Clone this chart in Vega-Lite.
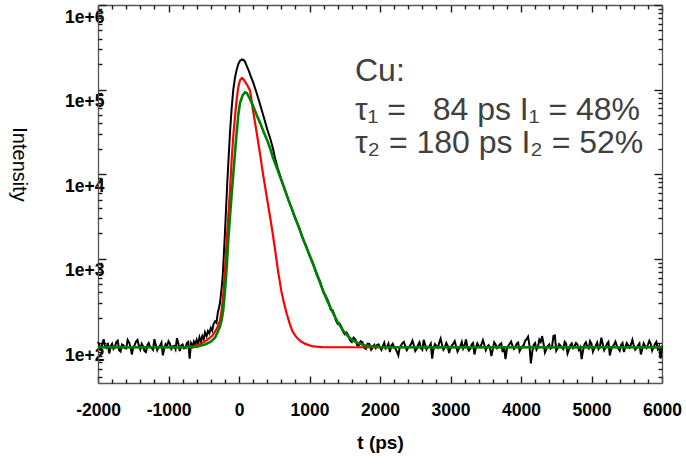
{
  "$schema": "https://vega.github.io/schema/vega-lite/v6.json",
  "width": 564,
  "height": 378,
  "autosize": {"type": "none"},
  "padding": {"left": 98, "top": 5, "right": 24, "bottom": 81},
  "background": "white",
  "config": {
    "view": {"stroke": null},
    "axis": {"grid": false, "domainColor": "#555", "tickColor": "#1a1a1a", "tickWidth": 1.4, "domainWidth": 1.3}
  },
  "datasets": {
    "obs": [
      {"t":-2000,"v":104},{"t":-1980,"v":95},{"t":-1960,"v":82},{"t":-1940,"v":99},{"t":-1920,"v":112},{"t":-1900,"v":90},{"t":-1880,"v":88},{"t":-1860,"v":101},{"t":-1840,"v":76},{"t":-1820,"v":93},
      {"t":-1800,"v":99},{"t":-1780,"v":86},{"t":-1760,"v":91},{"t":-1740,"v":104},{"t":-1720,"v":108},{"t":-1700,"v":83},{"t":-1680,"v":80},{"t":-1660,"v":97},{"t":-1640,"v":95},{"t":-1620,"v":88},
      {"t":-1600,"v":87},{"t":-1580,"v":110},{"t":-1560,"v":103},{"t":-1540,"v":92},{"t":-1520,"v":74},{"t":-1500,"v":89},{"t":-1480,"v":96},{"t":-1460,"v":105},{"t":-1440,"v":110},{"t":-1420,"v":94},
      {"t":-1400,"v":85},{"t":-1380,"v":99},{"t":-1360,"v":92},{"t":-1340,"v":81},{"t":-1320,"v":79},{"t":-1300,"v":95},{"t":-1280,"v":101},{"t":-1260,"v":90},{"t":-1240,"v":89},{"t":-1220,"v":84},
      {"t":-1200,"v":112},{"t":-1180,"v":96},{"t":-1160,"v":83},{"t":-1140,"v":91},{"t":-1120,"v":94},{"t":-1100,"v":102},{"t":-1080,"v":72},{"t":-1060,"v":88},{"t":-1040,"v":98},{"t":-1020,"v":93},
      {"t":-1000,"v":106},{"t":-980,"v":99},{"t":-960,"v":86},{"t":-940,"v":92},{"t":-920,"v":93},{"t":-900,"v":85},{"t":-880,"v":115},{"t":-860,"v":100},{"t":-840,"v":81},{"t":-820,"v":94},
      {"t":-800,"v":97},{"t":-780,"v":87},{"t":-760,"v":88},{"t":-740,"v":101},{"t":-720,"v":104},
      {"t":-700,"v":66},{"t":-680,"v":100},{"t":-660,"v":92},{"t":-640,"v":105},{"t":-620,"v":96},{"t":-600,"v":110},{"t":-580,"v":99},{"t":-560,"v":118},{"t":-540,"v":104},{"t":-520,"v":122},{"t":-500,"v":112},{"t":-482,"v":135},{"t":-460,"v":121},{"t":-440,"v":140},{"t":-420,"v":131},{"t":-400,"v":152},{"t":-380,"v":141},{"t":-360,"v":170},{"t":-340,"v":182},{"t":-320,"v":175},{"t":-300,"v":232},{"t":-285,"v":260},{"t":-270,"v":300},{"t":-250,"v":420},{"t":-231,"v":620},{"t":-215,"v":1120},{"t":-199,"v":2040},{"t":-183,"v":3980},{"t":-166,"v":7940},{"t":-150,"v":14100},{"t":-128,"v":30900},{"t":-104,"v":60300},{"t":-81,"v":100000},{"t":-57,"v":138000},{"t":-33,"v":172000},{"t":-10,"v":200000},{"t":14,"v":219000},{"t":40,"v":226000},{"t":61,"v":225000},{"t":85,"v":214000},{"t":110,"v":190000},{"t":140,"v":166000},{"t":170,"v":141000},{"t":203,"v":120000},{"t":250,"v":91200},{"t":290,"v":70800},{"t":322,"v":57500},{"t":360,"v":44700},{"t":400,"v":33900},{"t":440,"v":26900},{"t":480,"v":20400},{"t":511,"v":15500},{"t":550,"v":11700},{"t":600,"v":8700},
      {"t":650,"v":6600},{"t":700,"v":4950},{"t":750,"v":3920},{"t":800,"v":2950},{"t":850,"v":2380},{"t":900,"v":1770},{"t":950,"v":1430},{"t":1000,"v":1090},{"t":1050,"v":890},{"t":1100,"v":655},{"t":1150,"v":540},
      {"t":1200,"v":395},{"t":1225,"v":372},{"t":1250,"v":335},{"t":1275,"v":300},{"t":1300,"v":250},{"t":1325,"v":248},{"t":1350,"v":222},{"t":1375,"v":186},{"t":1400,"v":170},{"t":1425,"v":172},{"t":1450,"v":160},{"t":1475,"v":138},{"t":1500,"v":128},{"t":1525,"v":134},{"t":1550,"v":124},{"t":1575,"v":109},{"t":1600,"v":104},{"t":1625,"v":117},{"t":1650,"v":112},{"t":1675,"v":96},{"t":1700,"v":95},{"t":1725,"v":106},{"t":1750,"v":103},{"t":1775,"v":89},{"t":1800,"v":86},{"t":1825,"v":99},{"t":1850,"v":98},{"t":1875,"v":84},{"t":1900,"v":90},{"t":1920,"v":96},
      {"t":1940,"v":88},{"t":1960,"v":96},{"t":1980,"v":97},{"t":2000,"v":90},{"t":2020,"v":84},{"t":2040,"v":93},{"t":2060,"v":102},{"t":2080,"v":87},{"t":2100,"v":91},{"t":2120,"v":99},
      {"t":2140,"v":79},{"t":2160,"v":94},{"t":2180,"v":99},{"t":2200,"v":91},{"t":2220,"v":86},{"t":2240,"v":80},{"t":2260,"v":72},{"t":2280,"v":90},{"t":2300,"v":95},{"t":2320,"v":101},
      {"t":2340,"v":104},{"t":2360,"v":92},{"t":2380,"v":83},{"t":2400,"v":89},{"t":2420,"v":93},{"t":2440,"v":98},{"t":2460,"v":108},{"t":2480,"v":95},{"t":2500,"v":81},{"t":2520,"v":86},
      {"t":2540,"v":96},{"t":2560,"v":103},{"t":2580,"v":88},{"t":2600,"v":84},{"t":2620,"v":110},{"t":2640,"v":97},{"t":2660,"v":85},{"t":2680,"v":91},{"t":2700,"v":92},{"t":2720,"v":99},
      {"t":2740,"v":66},{"t":2760,"v":87},{"t":2780,"v":98},{"t":2800,"v":93},{"t":2820,"v":89},{"t":2840,"v":102},{"t":2860,"v":114},{"t":2880,"v":96},{"t":2900,"v":84},{"t":2920,"v":90},
      {"t":2940,"v":101},{"t":2960,"v":94},{"t":2980,"v":77},{"t":3000,"v":88},{"t":3020,"v":95},{"t":3040,"v":99},{"t":3060,"v":106},{"t":3080,"v":92},{"t":3100,"v":80},{"t":3120,"v":87},
      {"t":3140,"v":93},{"t":3160,"v":104},{"t":3180,"v":87},{"t":3200,"v":95},{"t":3220,"v":111},{"t":3240,"v":90},{"t":3260,"v":82},{"t":3280,"v":86},{"t":3300,"v":97},{"t":3320,"v":101},
      {"t":3340,"v":74},{"t":3360,"v":89},{"t":3380,"v":100},{"t":3400,"v":93},{"t":3420,"v":90},{"t":3440,"v":98},{"t":3460,"v":109},{"t":3480,"v":96},{"t":3500,"v":83},{"t":3520,"v":91},
      {"t":3540,"v":95},{"t":3560,"v":88},{"t":3580,"v":71},{"t":3600,"v":85},{"t":3620,"v":103},{"t":3640,"v":97},{"t":3660,"v":88},{"t":3680,"v":92},{"t":3700,"v":97},{"t":3720,"v":100},
      {"t":3740,"v":79},{"t":3760,"v":90},{"t":3780,"v":65},{"t":3800,"v":86},{"t":3820,"v":94},{"t":3840,"v":99},{"t":3860,"v":105},{"t":3880,"v":93},{"t":3900,"v":86},{"t":3920,"v":91},
      {"t":3940,"v":99},{"t":3960,"v":102},{"t":3980,"v":81},{"t":4000,"v":87},{"t":4020,"v":92},{"t":4040,"v":96},{"t":4060,"v":108},{"t":4080,"v":112},{"t":4100,"v":120},{"t":4120,"v":95},
      {"t":4140,"v":58},{"t":4160,"v":80},{"t":4180,"v":96},{"t":4200,"v":101},{"t":4220,"v":84},{"t":4240,"v":90},{"t":4260,"v":111},{"t":4280,"v":104},{"t":4300,"v":122},{"t":4320,"v":99},
      {"t":4340,"v":78},{"t":4360,"v":86},{"t":4380,"v":93},{"t":4400,"v":97},{"t":4420,"v":87},{"t":4440,"v":91},{"t":4460,"v":122},{"t":4480,"v":124},{"t":4500,"v":82},{"t":4520,"v":88},
      {"t":4540,"v":98},{"t":4560,"v":94},{"t":4580,"v":90},{"t":4600,"v":86},{"t":4620,"v":104},{"t":4640,"v":99},{"t":4660,"v":76},{"t":4680,"v":84},{"t":4700,"v":95},{"t":4720,"v":100},
      {"t":4740,"v":88},{"t":4760,"v":93},{"t":4780,"v":101},{"t":4800,"v":97},{"t":4820,"v":84},{"t":4840,"v":90},{"t":4860,"v":65},{"t":4880,"v":82},{"t":4900,"v":97},{"t":4920,"v":103},
      {"t":4940,"v":91},{"t":4960,"v":87},{"t":4980,"v":106},{"t":5000,"v":99},{"t":5020,"v":80},{"t":5040,"v":88},{"t":5060,"v":94},{"t":5080,"v":102},{"t":5100,"v":86},{"t":5120,"v":92},
      {"t":5140,"v":117},{"t":5160,"v":98},{"t":5180,"v":83},{"t":5200,"v":89},{"t":5220,"v":99},{"t":5240,"v":104},{"t":5260,"v":72},{"t":5280,"v":85},{"t":5300,"v":92},{"t":5320,"v":97},
      {"t":5340,"v":105},{"t":5360,"v":93},{"t":5380,"v":87},{"t":5400,"v":82},{"t":5420,"v":96},{"t":5440,"v":101},{"t":5460,"v":79},{"t":5480,"v":90},{"t":5500,"v":101},{"t":5520,"v":95},
      {"t":5540,"v":89},{"t":5560,"v":97},{"t":5580,"v":110},{"t":5600,"v":94},{"t":5620,"v":84},{"t":5640,"v":88},{"t":5660,"v":95},{"t":5680,"v":100},{"t":5700,"v":74},{"t":5720,"v":86},
      {"t":5740,"v":100},{"t":5760,"v":93},{"t":5780,"v":88},{"t":5800,"v":96},{"t":5820,"v":107},{"t":5840,"v":99},{"t":5860,"v":82},{"t":5880,"v":90},{"t":5900,"v":98},{"t":5920,"v":104},
      {"t":5940,"v":86},{"t":5960,"v":92},{"t":5980,"v":66},{"t":6000,"v":94}
    ],
    "red": [
      {"t":-2000,"v":90},{"t":-800,"v":90},{"t":-650,"v":92},{"t":-550,"v":98},{"t":-450,"v":110},{"t":-380,"v":123},{"t":-316,"v":148},{"t":-270,"v":186},{"t":-245,"v":251},{"t":-220,"v":398},{"t":-199,"v":759},{"t":-175,"v":1585},{"t":-152,"v":3162},{"t":-128,"v":6310},{"t":-104,"v":14800},{"t":-81,"v":28200},{"t":-57,"v":47900},{"t":-33,"v":75900},{"t":-10,"v":107000},{"t":14,"v":129000},{"t":40,"v":137000},{"t":61,"v":133000},{"t":85,"v":124500},{"t":120,"v":112000},{"t":156,"v":97700},{"t":200,"v":56200},{"t":251,"v":30900},{"t":300,"v":17000},{"t":345,"v":9550},{"t":400,"v":5010},{"t":440,"v":3160},{"t":480,"v":1950},{"t":511,"v":1290},{"t":557,"v":692},{"t":600,"v":417},{"t":640,"v":295},{"t":677,"v":224},{"t":720,"v":170},{"t":760,"v":138},{"t":818,"v":117},{"t":880,"v":105},{"t":950,"v":98},{"t":1050,"v":92},{"t":1200,"v":90},{"t":6000,"v":90}
    ],
    "green": [
      {"t":-2000,"v":90},{"t":-700,"v":90},{"t":-600,"v":91},{"t":-482,"v":97},{"t":-400,"v":105},{"t":-340,"v":117},{"t":-294,"v":141},{"t":-270,"v":158},{"t":-245,"v":190},{"t":-223,"v":251},{"t":-199,"v":417},{"t":-174,"v":794},{"t":-152,"v":1660},{"t":-128,"v":3160},{"t":-104,"v":5750},{"t":-81,"v":10000},{"t":-57,"v":17800},{"t":-33,"v":30900},{"t":-10,"v":50100},{"t":14,"v":69200},{"t":50,"v":85100},{"t":85,"v":92700},{"t":110,"v":91200},{"t":156,"v":77600},{"t":203,"v":63100},{"t":251,"v":50100},{"t":298,"v":40700},{"t":350,"v":31600},{"t":400,"v":25100},{"t":440,"v":20400},{"t":480,"v":15800},{"t":535,"v":12000},{"t":600,"v":8510},{"t":700,"v":5010},{"t":770,"v":3470},{"t":850,"v":2340},{"t":920,"v":1620},{"t":1007,"v":1070},{"t":1100,"v":676},{"t":1170,"v":468},{"t":1244,"v":331},{"t":1320,"v":240},{"t":1400,"v":178},{"t":1479,"v":141},{"t":1550,"v":120},{"t":1617,"v":108},{"t":1700,"v":100},{"t":1800,"v":94},{"t":1900,"v":92},{"t":2000,"v":90.5},{"t":2200,"v":90},{"t":6000,"v":90}
    ],
    "notes": [
      {"t":1645,"v":125000,"label":"Cu:"},
      {"t":1645,"v":44200,"label":"τ₁ = \u200784 ps I₁ = 48%"},
      {"t":1645,"v":17800,"label":"τ₂ = 180 ps I₂ = 52%"}
    ]
  },
  "layer": [
    {
      "data": {"name": "obs"},
      "mark": {"type": "line", "color": "#000000", "strokeWidth": 2},
      "encoding": {
        "x": {"field": "t", "type": "quantitative",
          "scale": {"domain": [-2000, 6000], "nice": false, "zero": false},
          "axis": {"orient": "bottom",
            "values": [-2000,-1000,0,1000,2000,3000,4000,5000,6000],
            "labelExpr": "'' + datum.value",
            "tickSize": -7,
            "labelPadding": 25, "labelFont": "Liberation Sans", "labelFontWeight": "bold", "labelFontSize": 17.5, "labelColor": "#000",
            "labelOverlap": false, "labelFlush": false,
            "title": "t (ps)", "titleFont": "Liberation Sans", "titleFontSize": 19, "titleFontWeight": "bold", "titleColor": "#000", "titlePadding": 15}
        },
        "y": {"field": "v", "type": "quantitative",
          "scale": {"type": "log", "domain": [34, 1000000], "nice": false},
          "axis": {"orient": "left",
            "values": [100,1000,10000,100000,1000000],
            "labelExpr": "'1e+' + round(log(datum.value)/LN10)",
            "tickSize": -8,
            "labelPadding": 2, "labelOffset": 12, "labelFont": "Liberation Sans", "labelFontWeight": "bold", "labelFontSize": 17.5, "labelColor": "#000",
            "labelOverlap": false, "labelFlush": false,
            "title": "Intensity", "titleFont": "Liberation Sans", "titleFontSize": 20, "titleFontWeight": "normal", "titleColor": "#000",
            "titleAngle": 90, "titleX": -80, "titleY": 159, "titleAlign": "center", "titleBaseline": "middle"}
        }
      }
    },
    {
      "data": {"name": "red"},
      "mark": {"type": "line", "color": "#ff0000", "strokeWidth": 2.2},
      "encoding": {
        "x": {"field": "t", "type": "quantitative",
          "scale": {"domain": [-2000, 6000], "nice": false, "zero": false},
          "axis": {"orient": "top", "values": [-2000,-1000,0,1000,2000,3000,4000,5000,6000], "labels": false, "title": null, "tickSize": -7}
        },
        "y": {"field": "v", "type": "quantitative",
          "scale": {"type": "log", "domain": [34, 1000000], "nice": false},
          "axis": {"orient": "right", "values": [100,1000,10000,100000,1000000], "labels": false, "title": null, "tickSize": -8}
        }
      }
    },
    {
      "data": {"name": "green"},
      "mark": {"type": "line", "color": "#008000", "strokeWidth": 2.6},
      "encoding": {
        "x": {"field": "t", "type": "quantitative",
          "axis": {"orient": "bottom", "values": [-1800,-1600,-1400,-1200,-800,-600,-400,-200,200,400,600,800,1200,1400,1600,1800,2200,2400,2600,2800,3200,3400,3600,3800,4200,4400,4600,4800,5200,5400,5600,5800], "labels": false, "title": null, "tickSize": -4, "domain": false}
        },
        "y": {"field": "v", "type": "quantitative",
          "axis": {"orient": "left", "values": [40,50,60,70,80,90,200,300,400,500,600,700,800,900,2000,3000,4000,5000,6000,7000,8000,9000,20000,30000,40000,50000,60000,70000,80000,90000,200000,300000,400000,500000,600000,700000,800000,900000], "labels": false, "title": null, "tickSize": -4, "domain": false}
        }
      }
    },
    {
      "data": {"name": "notes"},
      "mark": {"type": "text", "align": "left", "baseline": "alphabetic", "font": "Liberation Sans", "fontSize": 32, "color": "#404040"},
      "encoding": {
        "x": {"field": "t", "type": "quantitative",
          "axis": {"orient": "top", "values": [-1800,-1600,-1400,-1200,-800,-600,-400,-200,200,400,600,800,1200,1400,1600,1800,2200,2400,2600,2800,3200,3400,3600,3800,4200,4400,4600,4800,5200,5400,5600,5800], "labels": false, "title": null, "tickSize": -4, "domain": false}
        },
        "y": {"field": "v", "type": "quantitative",
          "axis": {"orient": "right", "values": [40,50,60,70,80,90,200,300,400,500,600,700,800,900,2000,3000,4000,5000,6000,7000,8000,9000,20000,30000,40000,50000,60000,70000,80000,90000,200000,300000,400000,500000,600000,700000,800000,900000], "labels": false, "title": null, "tickSize": -4, "domain": false}
        },
        "text": {"field": "label"}
      }
    }
  ],
  "resolve": {"axis": {"x": "independent", "y": "independent"}}
}
